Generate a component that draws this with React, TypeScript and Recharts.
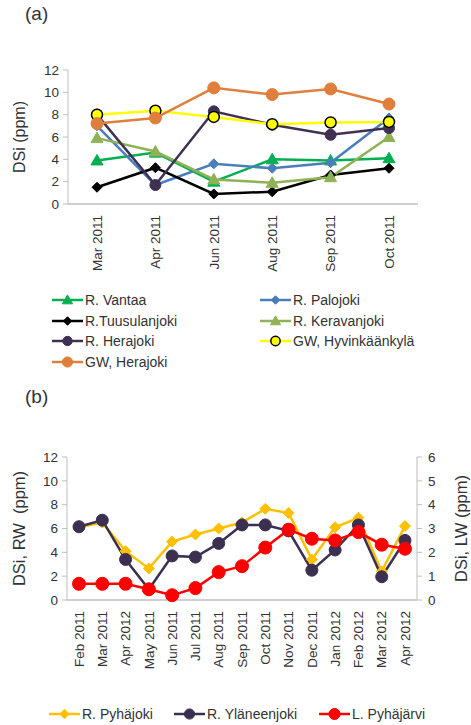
import React from 'react'
import { LineChart, Line, XAxis, YAxis } from 'recharts'

// Sampling dates, top panel
const TOP_MONTHS = ['Mar 2011', 'Apr 2011', 'Jun 2011', 'Aug 2011', 'Sep 2011', 'Oct 2011']

// DSi (ppm), top panel
const VANTAA = [3.9, 4.6, 2.0, 4.0, 3.9, 4.1]
const PALOJOKI = [7.0, 1.7, 3.6, 3.2, 3.7, 7.7]
const TUUSULANJOKI = [1.5, 3.25, 0.9, 1.1, 2.6, 3.2]
const KERAVANJOKI = [5.9, 4.7, 2.2, 1.9, 2.4, 6.0]
const HERAJOKI = [8.0, 1.7, 8.3, 7.1, 6.2, 6.8]
const GW_HYVINKAANKYLA = [8.0, 8.35, 7.8, 7.15, 7.3, 7.35]
const GW_HERAJOKI = [7.2, 7.7, 10.4, 9.8, 10.3, 8.95]

// Sampling dates, bottom panel
const BOTTOM_MONTHS = [
  'Feb 2011', 'Mar 2011', 'Apr 2012', 'May 2011', 'Jun 2011', 'Jul 2011', 'Aug 2011', 'Sep 2011',
  'Oct 2011', 'Nov 2011', 'Dec 2011', 'Jan 2012', 'Feb 2012', 'Mar 2012', 'Apr 2012',
]

// River water (left axis) and lake water (right axis), ppm
const PYHAJOKI = [6.1, 6.5, 4.1, 2.65, 4.9, 5.5, 6.0, 6.5, 7.65, 7.3, 3.4, 6.1, 6.9, 2.4, 6.2]
const YLANEENJOKI = [6.15, 6.7, 3.4, 0.9, 3.7, 3.6, 4.75, 6.3, 6.3, 5.8, 2.5, 4.2, 6.3, 1.95, 5.0]
const PYHAJARVI = [0.68, 0.68, 0.68, 0.45, 0.2, 0.5, 1.17, 1.42, 2.2, 2.95, 2.57, 2.5, 2.85, 2.32, 2.15]

const LEFT_TICKS = [0, 2, 4, 6, 8, 10, 12]
const RIGHT_TICKS = [0, 1, 2, 3, 4, 5, 6]

const FONT = '"Liberation Sans", Arial, sans-serif'
const AXIS = '#bfbfbf'
const TEXT = '#333'

type Shape = 'circle' | 'diamond' | 'triangle'

interface SeriesDef {
  key: string
  name: string
  color: string
  shape: Shape
  size: number
  fill?: string
  outline?: string
}

const TOP_SERIES: SeriesDef[] = [
  { key: 'vantaa', name: 'R. Vantaa', color: '#00b050', shape: 'triangle', size: 6 },
  { key: 'palojoki', name: 'R. Palojoki', color: '#4a7ebb', shape: 'diamond', size: 5 },
  { key: 'tuusulanjoki', name: 'R.Tuusulanjoki', color: '#000000', shape: 'diamond', size: 5 },
  { key: 'keravanjoki', name: 'R. Keravanjoki', color: '#8eb255', shape: 'triangle', size: 6 },
  { key: 'herajoki', name: 'R. Herajoki', color: '#403152', shape: 'circle', size: 5.5 },
  { key: 'gwHyvinkaankyla', name: 'GW, Hyvinkäänkylä', color: '#ffff00', shape: 'circle', size: 5.5, fill: '#ffff00', outline: '#000' },
  { key: 'gwHerajoki', name: 'GW, Herajoki', color: '#e07f3c', shape: 'circle', size: 6 },
]

const BOTTOM_SERIES: SeriesDef[] = [
  { key: 'pyhajoki', name: 'R. Pyhäjoki', color: '#ffc000', shape: 'diamond', size: 5.5 },
  { key: 'ylaneenjoki', name: 'R. Yläneenjoki', color: '#3b3050', shape: 'circle', size: 6 },
  { key: 'pyhajarvi', name: 'L. Pyhäjärvi', color: '#ff0000', shape: 'circle', size: 6.5 },
]

const topData = TOP_MONTHS.map((month, i) => ({
  month,
  vantaa: VANTAA[i],
  palojoki: PALOJOKI[i],
  tuusulanjoki: TUUSULANJOKI[i],
  keravanjoki: KERAVANJOKI[i],
  herajoki: HERAJOKI[i],
  gwHyvinkaankyla: GW_HYVINKAANKYLA[i],
  gwHerajoki: GW_HERAJOKI[i],
}))

const bottomData = BOTTOM_MONTHS.map((month, i) => ({
  month,
  pyhajoki: PYHAJOKI[i],
  ylaneenjoki: YLANEENJOKI[i],
  pyhajarvi: PYHAJARVI[i],
}))

function Marker({ cx, cy, s }: { cx: number; cy: number; s: SeriesDef }) {
  const fill = s.fill || s.color
  const stroke = s.outline || s.color
  const sw = s.outline ? 1.5 : 1
  if (s.shape === 'diamond') {
    const r = s.size
    return <path d={`M${cx},${cy - r}L${cx + r},${cy}L${cx},${cy + r}L${cx - r},${cy}Z`} fill={fill} stroke={stroke} strokeWidth={sw} />
  }
  if (s.shape === 'triangle') {
    const r = s.size
    return <path d={`M${cx},${cy - r}L${cx + r},${cy + r * 0.75}L${cx - r},${cy + r * 0.75}Z`} fill={fill} stroke={stroke} strokeWidth={sw} />
  }
  return <circle cx={cx} cy={cy} r={s.size} fill={fill} stroke={stroke} strokeWidth={sw} />
}

const makeDot = (s: SeriesDef) => (p: any) => {
  if (p.cx == null || p.cy == null) return <g key={p.index} />
  return <Marker key={p.index} cx={p.cx} cy={p.cy} s={s} />
}

// Month labels read bottom-to-top under the axis
function MonthTick({ x, y, payload }: any) {
  return (
    <text
      x={x}
      y={y + 3}
      transform={`rotate(-90, ${x}, ${y + 3})`}
      textAnchor="end"
      dy="0.35em"
      fontSize={13.5}
      fontFamily={FONT}
      fill={TEXT}
    >
      {payload.value}
    </text>
  )
}

function LegendItem({ s, x, y }: { s: SeriesDef; x: number; y: number }) {
  return (
    <div style={{ position: 'absolute', left: x, top: y - 10, height: 20, display: 'flex', alignItems: 'center', whiteSpace: 'nowrap' }}>
      <svg width={31} height={20}>
        <line x1={0} y1={10} x2={31} y2={10} stroke={s.color} strokeWidth={2.5} />
        <Marker cx={15.5} cy={10} s={{ ...s, size: s.size * 0.85 }} />
      </svg>
      <span style={{ marginLeft: 2, fontSize: 14, color: TEXT }}>{s.name}</span>
    </div>
  )
}

const yTitle = (value: string, position: 'insideLeft' | 'insideRight', offset: number, size: number) => ({
  value,
  angle: -90,
  position,
  offset,
  style: { textAnchor: 'middle', fontSize: size, fontFamily: FONT, fill: TEXT },
})

export default function App() {
  return (
    <div style={{ position: 'absolute', left: 0, top: 0, width: 471, height: 725, background: '#fff', fontFamily: FONT }}>
      <div style={{ position: 'absolute', left: 25, top: 3, fontSize: 19, color: TEXT }}>(a)</div>

      {/* Top panel: catchment rivers and groundwater */}
      <div style={{ position: 'absolute', left: 0, top: 0 }}>
        <LineChart width={471} height={290} data={topData} margin={{ top: 70, right: 53, left: 10, bottom: 0 }}>
          <XAxis
            dataKey="month"
            interval={0}
            height={86}
            padding={{ left: 29, right: 29 }}
            tickLine={false}
            axisLine={{ stroke: AXIS, strokeWidth: 1.5 }}
            tick={<MonthTick />}
          />
          <YAxis
            width={58}
            domain={[0, 12]}
            ticks={LEFT_TICKS}
            tickSize={5}
            tickMargin={4}
            tickLine={{ stroke: AXIS }}
            axisLine={{ stroke: AXIS }}
            tick={{ fontSize: 13.5, fontFamily: FONT, fill: TEXT }}
            label={yTitle('DSi (ppm)', 'insideLeft', 9, 16)}
          />
          {TOP_SERIES.map((s) => (
            <Line
              key={s.key}
              dataKey={s.key}
              name={s.name}
              stroke={s.color}
              strokeWidth={2.5}
              dot={makeDot(s)}
              activeDot={false}
              isAnimationActive={false}
            />
          ))}
        </LineChart>
      </div>

      {TOP_SERIES.map((s, i) => (
        <LegendItem key={s.key} s={s} x={i % 2 === 0 ? 52 : 260} y={300 + Math.floor(i / 2) * 20.5} />
      ))}

      <div style={{ position: 'absolute', left: 25, top: 386, fontSize: 19, color: TEXT }}>(b)</div>

      {/* Bottom panel: rivers on the left scale, lake on the right scale */}
      <div style={{ position: 'absolute', left: 0, top: 380 }}>
        <LineChart width={471} height={300} data={bottomData} margin={{ top: 77, right: 0, left: 10, bottom: 0 }}>
          <XAxis
            dataKey="month"
            interval={0}
            height={80}
            padding={{ left: 12, right: 12 }}
            tickLine={false}
            axisLine={{ stroke: AXIS, strokeWidth: 1.5 }}
            tick={<MonthTick />}
          />
          <YAxis
            yAxisId="left"
            width={57}
            domain={[0, 12]}
            ticks={LEFT_TICKS}
            tickSize={5}
            tickMargin={4}
            tickLine={{ stroke: AXIS }}
            axisLine={{ stroke: AXIS }}
            tick={{ fontSize: 13.5, fontFamily: FONT, fill: TEXT }}
            label={yTitle('DSi, RW \u00a0(ppm)', 'insideLeft', 9, 16.5)}
          />
          <YAxis
            yAxisId="right"
            orientation="right"
            width={54}
            domain={[0, 6]}
            ticks={RIGHT_TICKS}
            tickSize={5}
            tickMargin={6}
            tickLine={{ stroke: AXIS }}
            axisLine={{ stroke: AXIS }}
            tick={{ fontSize: 13.5, fontFamily: FONT, fill: TEXT }}
            label={yTitle('DSi, LW (ppm)', 'insideRight', 10, 16.5)}
          />
          {BOTTOM_SERIES.map((s) => (
            <Line
              key={s.key}
              yAxisId={s.key === 'pyhajarvi' ? 'right' : 'left'}
              dataKey={s.key}
              name={s.name}
              stroke={s.color}
              strokeWidth={2.5}
              dot={makeDot(s)}
              activeDot={false}
              isAnimationActive={false}
            />
          ))}
        </LineChart>
      </div>

      <LegendItem s={BOTTOM_SERIES[0]} x={49} y={714} />
      <LegendItem s={BOTTOM_SERIES[1]} x={174} y={714} />
      <LegendItem s={BOTTOM_SERIES[2]} x={319} y={714} />
    </div>
  )
}
